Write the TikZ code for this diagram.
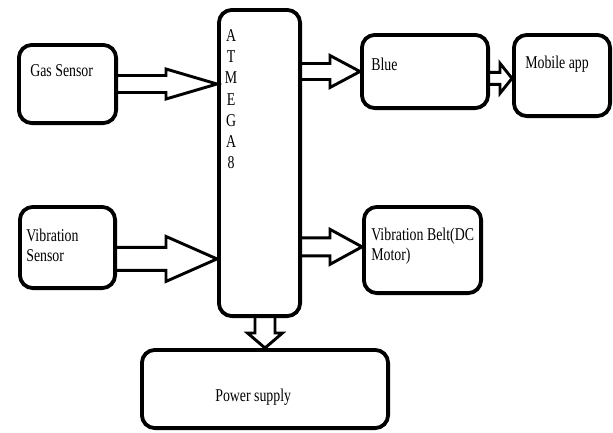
\documentclass[tikz,border=0pt]{standalone}
\usepackage{fontspec}
\setmainfont{Liberation Serif}[FakeStretch=0.77]
\usetikzlibrary{calc}

% hollow block arrow: start, tip, shaft half width, head half width, head length
\newcommand{\hollowarrow}[5]{%
  \coordinate (hb) at ($(#2)!#5!(#1)$);
  \draw[arrowline] ($(#1)!#3!90:(hb)$) -- ($(hb)!#3!-90:(#1)$) -- ($(hb)!#4!-90:(#1)$) -- (#2)
    -- ($(hb)!#4!90:(#1)$) -- ($(hb)!#3!90:(#1)$) -- ($(#1)!#3!-90:(hb)$);
}

\begin{document}
\begin{tikzpicture}[x=1pt,y=-1pt,
  block/.style={draw,line width=3.8pt,rounded corners=13pt,inner sep=0pt},
  arrowline/.style={line width=2.9pt,line join=miter},
  txt/.style={anchor=north west,inner sep=0pt,align=left,font=\fontsize{18}{20}\selectfont}]
  \useasboundingbox (0,0) rectangle (613,432);

  % boxes
  \node[block,minimum width=97.2pt,minimum height=78.2pt] (gas) at (67.5,84) {};
  \node[block,minimum width=95.2pt,minimum height=81.2pt] (vib) at (67.5,247.5) {};
  \node[block,minimum width=81.2pt,minimum height=306.2pt] (atmega) at (259.5,163) {};
  \node[block,minimum width=126.2pt,minimum height=73.2pt] (blue) at (425,71.5) {};
  \node[block,minimum width=96.2pt,minimum height=81.2pt] (mobile) at (562,75.5) {};
  \node[block,minimum width=117.2pt,minimum height=86.2pt] (belt) at (422.5,250) {};
  \node[block,minimum width=246.2pt,minimum height=78.2pt] (power) at (265,389) {};

  % texts
  \node[txt] (gastxt) at ($(gas.north west)+(13.1,21.8)$) {Gas Sensor};
  \node[txt] (vibtxt) at ($(vib.north west)+(8.1,23.8)$) {Vibration\\Sensor};
  \node[txt,anchor=north,align=center,font=\fontsize{18}{21.3}\selectfont] (atmegatxt)
    at ($(atmega.north west)+(14.1,21.1)$) {A\\T\\M\\E\\G\\A\\8};
  \node[txt] (bluetxt) at ($(blue.north west)+(11.1,24.8)$) {Blue};
  \node[txt] (mobiletxt) at ($(mobile.north west)+(13.1,22.8)$) {Mobile app};
  \node[txt] (belttxt) at ($(belt.north west)+(9.1,22.8)$) {Vibration Belt(DC\\Motor)};
  \node[txt] (powertxt) at ($(power.north west)+(75.1,40.8)$) {Power supply};

  % arrows
  \hollowarrow{gas.east}{atmega.west |- gas.east}{8.5pt}{15pt}{51pt}
  \hollowarrow{vib.-13.5}{atmega.west |- vib.-13.5}{11.5pt}{22.5pt}{51pt}
  \hollowarrow{atmega.east |- blue.west}{blue.west}{8pt}{16pt}{30pt}
  \hollowarrow{blue.-6.75}{mobile.west |- blue.-6.75}{6pt}{15pt}{12pt}
  \hollowarrow{atmega.east |- belt.177}{belt.177}{9pt}{17.5pt}{32pt}
  \hollowarrow{power.north |- atmega.south}{power.north}{10pt}{17.5pt}{15pt}
\end{tikzpicture}
\end{document}
